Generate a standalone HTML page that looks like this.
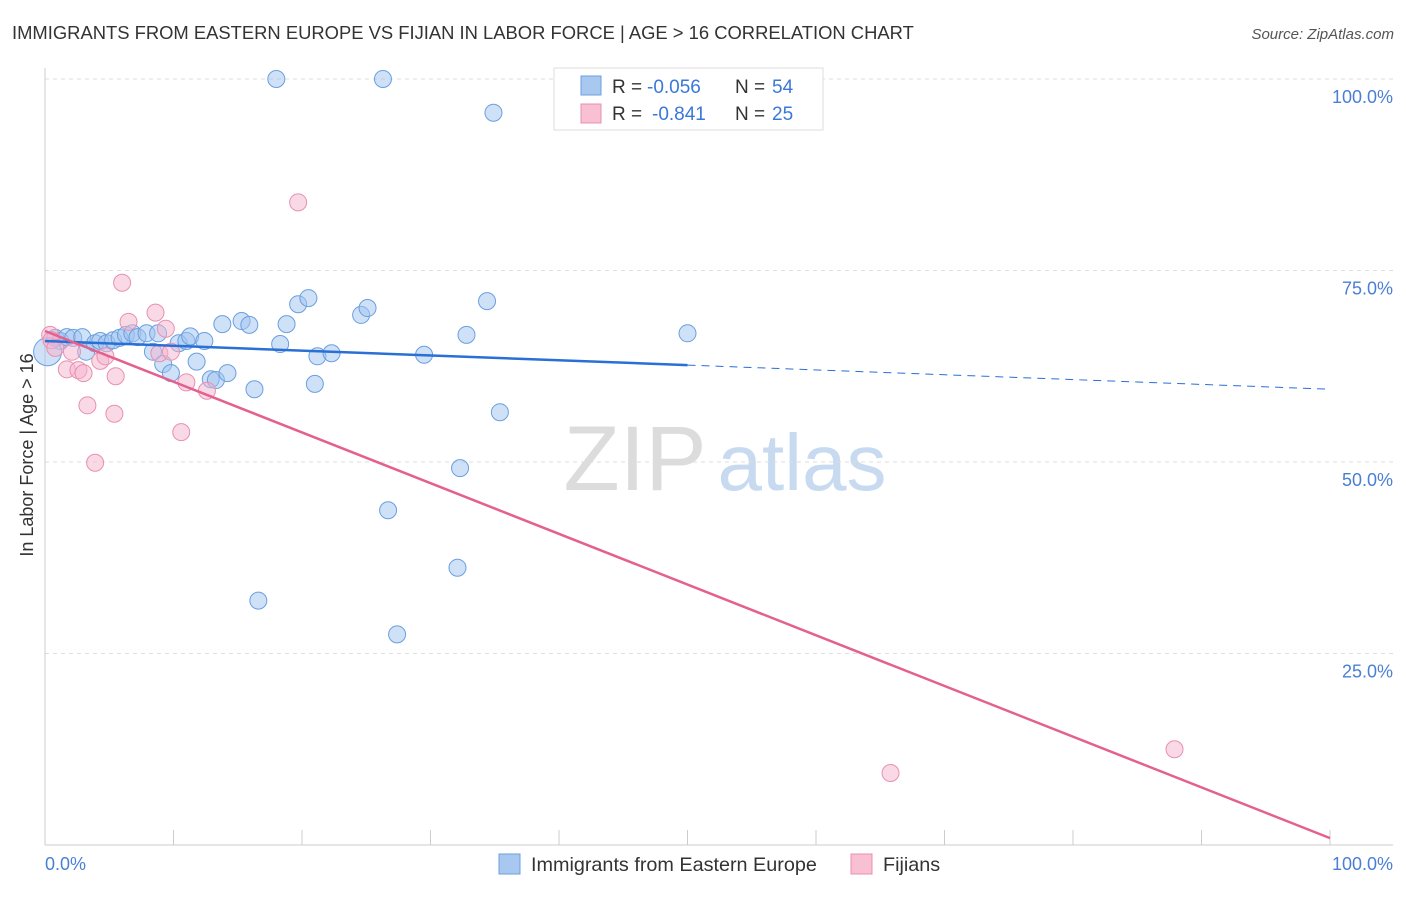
<!DOCTYPE html>
<html><head><meta charset="utf-8"><style>
body{margin:0;background:#fff;font-family:"Liberation Sans",sans-serif;}
svg text{font-family:"Liberation Sans",sans-serif;}
</style></head><body>
<svg id="chart" width="1406" height="892" viewBox="0 0 1406 892" xmlns="http://www.w3.org/2000/svg">
<text x="12" y="39" font-size="18.4" fill="#333">IMMIGRANTS FROM EASTERN EUROPE VS FIJIAN IN LABOR FORCE | AGE &gt; 16 CORRELATION CHART</text>
<text x="1394" y="39" font-size="15" fill="#555" text-anchor="end" font-style="italic">Source: ZipAtlas.com</text>
<text x="635" y="490" font-size="92" text-anchor="middle" fill="#dcdcdc" font-family="Liberation Serif">ZIP</text>
<text x="802" y="490" font-size="80" text-anchor="middle" fill="#c8daf0">atlas</text>
<g id="grid"></g>
<g id="axes"></g>
<g id="pts"></g>
<g id="trend"></g>
<text transform="translate(33,455) rotate(-90)" font-size="18" fill="#333" text-anchor="middle">In Labor Force | Age &gt; 16</text>
<text x="45" y="870" font-size="18" fill="#4a7fd4">0.0%</text>
<text x="1393" y="870" font-size="18" fill="#4a7fd4" text-anchor="end">100.0%</text>
<g>
<rect x="554" y="68" width="269" height="62" fill="#fff" stroke="#ddd"/>
<rect x="581" y="76" width="20" height="19" fill="#a8c8f0" stroke="#6a9fe0"/>
<rect x="581" y="104" width="20" height="19" fill="#f8c0d2" stroke="#e890b0"/>
<text x="612" y="93" font-size="19" fill="#333">R =</text>
<text x="647" y="93" font-size="19" fill="#3a78d8">-0.056</text>
<text x="735" y="93" font-size="19" fill="#333">N =</text>
<text x="772" y="93" font-size="19" fill="#3a78d8">54</text>
<text x="612" y="120" font-size="19" fill="#333">R =</text>
<text x="652" y="120" font-size="19" fill="#3a78d8">-0.841</text>
<text x="735" y="120" font-size="19" fill="#333">N =</text>
<text x="772" y="120" font-size="19" fill="#3a78d8">25</text>
</g>
<g>
<rect x="499" y="854" width="21" height="20" fill="#a8c8f0" stroke="#6a9fe0"/>
<text x="531" y="871" font-size="19.8" fill="#333">Immigrants from Eastern Europe</text>
<rect x="851" y="854" width="21" height="20" fill="#f8c0d2" stroke="#e890b0"/>
<text x="883" y="871" font-size="19.8" fill="#333">Fijians</text>
</g>
</svg>
<script>
const blueX=[18.0,26.3,34.9,0.8,1.2,1.7,2.2,2.9,3.2,3.9,4.3,4.8,5.3,5.8,6.3,6.8,7.2,7.9,8.4,8.8,9.2,9.8,10.4,11.0,11.3,11.8,12.4,12.9,13.3,13.8,14.2,15.3,15.9,16.3,16.6,18.3,18.8,19.7,20.5,21.0,21.2,22.3,24.6,25.1,26.7,27.4,29.5,32.1,32.3,32.8,34.4,35.4,50.0,0.2];
const blueY=[100,100,95.6,66.2,65.8,66.3,66.2,66.3,64.4,65.5,65.8,65.5,65.9,66.2,66.6,66.8,66.3,66.8,64.4,66.8,62.8,61.6,65.5,65.8,66.4,63.1,65.8,60.8,60.7,68.0,61.6,68.4,67.9,59.5,31.9,65.4,68.0,70.6,71.4,60.2,63.8,64.2,69.2,70.1,43.7,27.5,64.0,36.2,49.2,66.6,71.0,56.5,66.8,64.4];
const pinkX=[0.4,0.5,0.8,1.7,2.1,2.6,3.0,3.3,3.9,4.3,4.7,5.4,5.5,6.0,6.5,8.6,8.9,9.4,9.8,10.6,11.0,12.6,19.7,65.8,87.9];
const pinkY=[66.6,65.9,64.9,62.1,64.4,62.0,61.6,57.4,49.9,63.2,63.8,56.3,61.2,73.4,68.3,69.5,64.2,67.4,64.4,53.9,60.4,59.3,83.9,9.4,12.5];
const blueTrend=[65.8,59.5];
const pinkTrend=[67.1,0.9];
const yTicks=[100,75,50,25];
const yTickLabels=["100.0%","75.0%","50.0%","25.0%"];
const xTicks=[0,10,20,30,40,50,60,70,80,90,100];
const NS="http://www.w3.org/2000/svg";
const sx=v=>45+v*12.85, sy=v=>845-v*7.66;
function mk(t,a,p){const e=document.createElementNS(NS,t);for(const k in a)e.setAttribute(k,a[k]);p.appendChild(e);return e;}
const grid=document.getElementById('grid'),axes=document.getElementById('axes'),pts=document.getElementById('pts'),tr=document.getElementById('trend');
yTicks.forEach((v,i)=>{
 const l=mk('line',{x1:45,x2:1393,y1:sy(v),y2:sy(v),stroke:'#ddd','stroke-dasharray':'4,4'},grid);
 
 
 const t=mk('text',{x:1393,y:sy(v)+24,'font-size':18,fill:'#4a7fd4','text-anchor':'end'},grid);
 t.textContent=yTickLabels[i];
 
 
});
const ya=mk('line',{x1:45,x2:45,y1:68,y2:845,stroke:'#ccc'},axes);


const xa=mk('line',{x1:45,x2:1393,y1:845,y2:845,stroke:'#ccc'},axes);


xTicks.forEach(v=>{
 const t=mk('line',{x1:sx(v),x2:sx(v),y1:830,y2:845,stroke:'#ccc'},axes);
 
 
});
blueX.forEach((x,i)=>{
 const c=mk('circle',{cx:sx(x),cy:sy(blueY[i]),r:(i==blueX.length-1?14:8.5),fill:'rgba(160,195,240,0.5)',stroke:'#6a9fe0','stroke-width':1},pts);
 
 
});
pinkX.forEach((x,i)=>{
 const c=mk('circle',{cx:sx(x),cy:sy(pinkY[i]),r:8.5,fill:'rgba(245,180,205,0.5)',stroke:'#e890b0','stroke-width':1},pts);
 
 
});
const bAt=x=>blueTrend[0]+(blueTrend[1]-blueTrend[0])*x/100;
const b1=mk('line',{x1:sx(0),y1:sy(bAt(0)),x2:sx(50),y2:sy(bAt(50)),stroke:'#2a6fd6','stroke-width':2.5},tr);


const b2=mk('line',{x1:sx(50),y1:sy(bAt(50)),x2:sx(100),y2:sy(bAt(100)),stroke:'#2a6fd6','stroke-width':1,'stroke-dasharray':'8,6'},tr);


const p1=mk('line',{x1:sx(0),y1:sy(pinkTrend[0]),x2:sx(100),y2:sy(pinkTrend[1]),stroke:'#e3608f','stroke-width':2.5},tr);


</script>
</body></html>
